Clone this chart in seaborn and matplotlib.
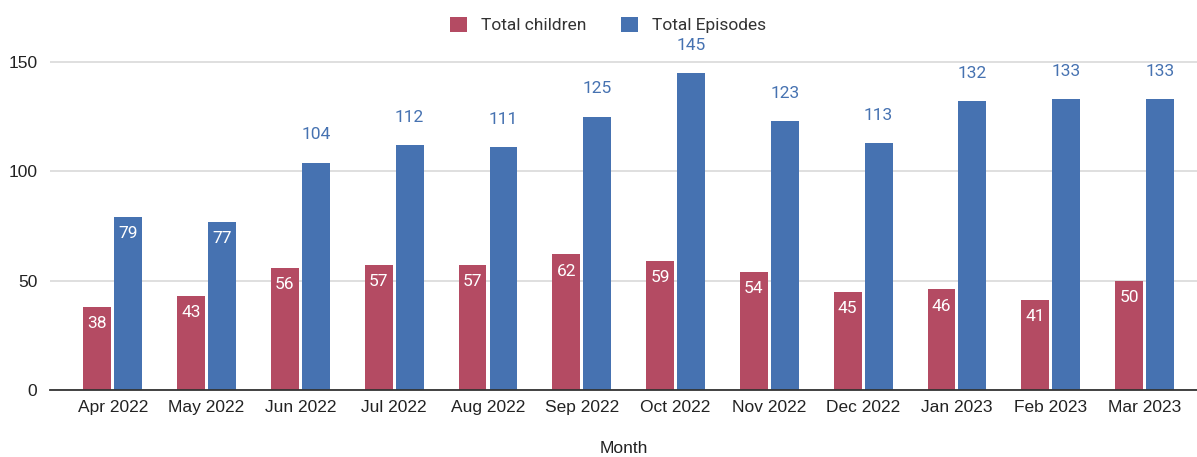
import matplotlib
matplotlib.use("Agg")
import matplotlib.pyplot as plt
import seaborn as sns
import pandas as pd

months = ["Apr 2022", "May 2022", "Jun 2022", "Jul 2022", "Aug 2022", "Sep 2022",
          "Oct 2022", "Nov 2022", "Dec 2022", "Jan 2023", "Feb 2023", "Mar 2023"]
total_children = [38, 43, 56, 57, 57, 62, 59, 54, 45, 46, 41, 50]
total_episodes = [79, 77, 104, 112, 111, 125, 145, 123, 113, 132, 133, 133]
series_names = ["Total children", "Total Episodes"]
yticks = [0, 50, 100, 150]

RED = "#B44B63"
BLUE = "#4672B1"
TEXT = "#222222"
AXIS_FONT = ["Liberation Sans", "DejaVu Sans"]
LABEL_FONT = ["Roboto", "DejaVu Sans"]

df = pd.DataFrame({
    "Month": months * 2,
    "Value": total_children + total_episodes,
    "Series": [series_names[0]] * len(months) + [series_names[1]] * len(months),
})

sns.set_theme(style="white")
plt.rcParams["font.family"] = AXIS_FONT

fig = plt.figure(figsize=(11.97, 4.57), dpi=100)
ax = fig.add_axes([50 / 1197, 67 / 457, 1147 / 1197, 350 / 457])

sns.barplot(data=df, x="Month", y="Value", hue="Series", order=months,
            hue_order=series_names, palette=[RED, BLUE], width=0.66, gap=0.1,
            saturation=1, ax=ax, legend=True, edgecolor="none")

ax.set_ylim(0, 160)
ax.set_xlim(-0.67, 11.56)
ax.set_yticks(yticks)
ax.grid(axis="y", color="#d9d9d9", linewidth=1.2)
ax.set_axisbelow(True)
for s in ["top", "right", "left"]:
    ax.spines[s].set_visible(False)
ax.spines["bottom"].set_color("#333333")
ax.spines["bottom"].set_linewidth(1.3)
ax.tick_params(axis="both", length=0, labelsize=12.5, colors=TEXT, pad=7)
ax.tick_params(axis="y", pad=9)
ax.set_ylabel("")
ax.set_xlabel("Month", fontsize=12.5, color=TEXT, labelpad=19)

# value labels: children inside in white; episodes inside when short, above otherwise
for cont, name in zip(ax.containers, series_names):
    for bar, v in zip(cont, cont.datavalues):
        cx = bar.get_x() + bar.get_width() / 2
        top = bar.get_height()
        if name == series_names[0] or v < 100:
            ax.annotate(f"{int(v)}", (cx, top), xytext=(0, -12), textcoords="offset points",
                        ha="center", va="center", color="white", fontsize=12.5,
                        family=LABEL_FONT)
        else:
            ax.annotate(f"{int(v)}", (cx, top), xytext=(0, 20), textcoords="offset points",
                        ha="center", va="center", color=BLUE, fontsize=12.5,
                        family=LABEL_FONT)

handles, labels = ax.get_legend_handles_labels()
ax.legend_.remove()
fig.legend(handles, labels, loc="center", bbox_to_anchor=(608 / 1197, 1 - 25 / 457),
           ncol=2, frameon=False, handlelength=1.0, handleheight=1.0,
           handletextpad=0.8, columnspacing=2.0, labelcolor="#333333",
           prop={"family": LABEL_FONT, "size": 12.5})

fig.savefig("out.png", dpi=100)
